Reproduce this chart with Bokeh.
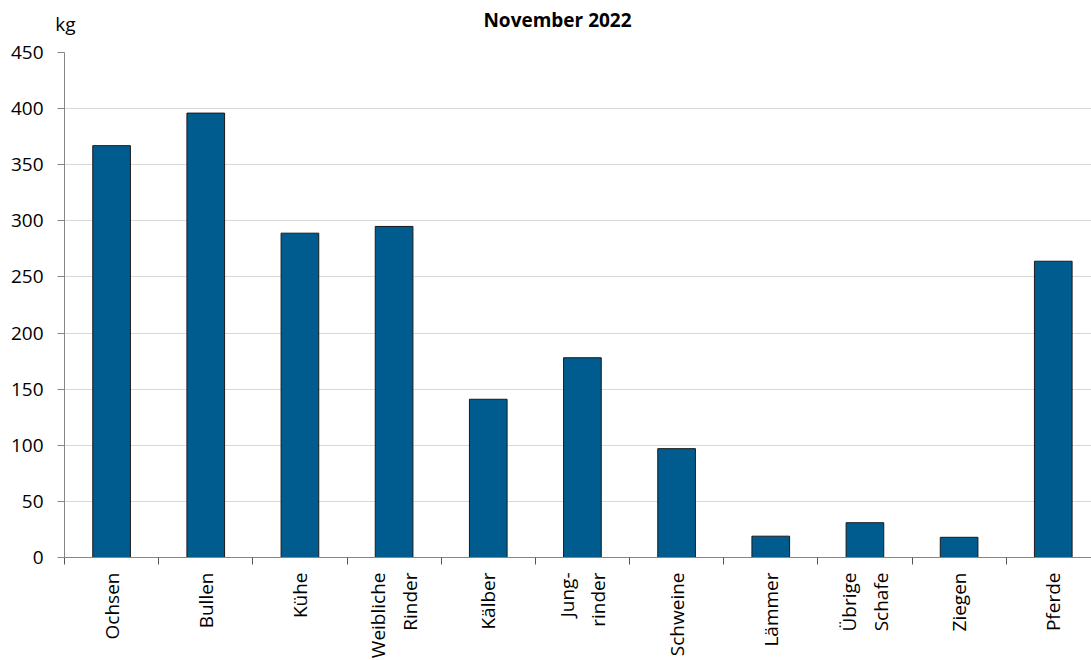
import math
from bokeh.plotting import figure
from bokeh.layouts import column
from bokeh.models import FixedTicker, ColumnDataSource, Range1d
from bokeh.core.properties import value
from bokeh.embed import file_html
from bokeh.resources import INLINE

categories = ["Ochsen", "Bullen", "Kühe", "Weibliche\nRinder", "Kälber", "Jung-\nrinder",
              "Schweine", "Lämmer", "Übrige\nSchafe", "Ziegen", "Pferde"]
values = [367, 396, 289, 295, 141, 178, 97, 19, 31, 18, 264]
y_ticks = [0, 50, 100, 150, 200, 250, 300, 350, 400, 450]
title_text = "November 2022"
unit_text = "kg"

FONT = "Open Sans"
BAR = "#005B8F"

n = len(categories)
centers = [i + 0.5 for i in range(n)]
bounds = [i for i in range(n + 1)]

# header: title as text glyph, unit as the header's y-axis label
head = figure(width=1091, height=36, output_backend="svg", toolbar_location=None,
              x_range=Range1d(64, 1091), y_range=Range1d(0, 36),
              x_axis_location=None,
              min_border_left=64, min_border_right=0, min_border_top=0, min_border_bottom=0)
head.outline_line_color = None
head.xgrid.grid_line_color = None
head.ygrid.grid_line_color = None
head.yaxis.ticker = FixedTicker(ticks=[13])
head.yaxis.major_label_overrides = {13: unit_text}
head.yaxis.axis_line_color = None
head.yaxis.major_tick_line_color = None
head.yaxis.minor_tick_line_color = None
head.yaxis.major_tick_out = 0
head.yaxis.major_tick_in = 0
head.yaxis.major_label_standoff = -11
head.yaxis.major_label_text_font = FONT
head.yaxis.major_label_text_font_size = "19px"
head.yaxis.major_label_text_color = "black"
head.text(x=[557], y=[17], text=[title_text], text_font=value(FONT), text_font_size="19px",
          text_font_style="bold", text_align="center", text_baseline="middle", text_color="black")

p = figure(frame_width=1027, frame_height=505, output_backend="svg", toolbar_location=None,
           x_range=Range1d(0, 10.906), y_range=Range1d(0, 450),
           min_border_left=64, min_border_right=0, min_border_top=16, min_border_bottom=0)
p.outline_line_color = None
p.background_fill_color = "white"
p.border_fill_color = "white"

src = ColumnDataSource(dict(x=centers, top=values))
p.vbar(x="x", top="top", width=0.4, bottom=0, source=src, fill_color=BAR,
       line_color="#1a1a1a", line_width=1)

# y axis
p.yaxis.ticker = FixedTicker(ticks=y_ticks)
p.yaxis.axis_line_color = "#868686"
p.yaxis.major_tick_line_color = "#868686"
p.yaxis.major_tick_out = 7
p.yaxis.major_tick_in = 0
p.yaxis.minor_tick_line_color = None
p.yaxis.major_label_text_font = FONT
p.yaxis.major_label_text_font_size = "19px"
p.yaxis.major_label_text_color = "black"
p.yaxis.major_label_standoff = 14

# x axis
p.xaxis.ticker = FixedTicker(ticks=centers, minor_ticks=bounds)
p.xaxis.major_label_overrides = {c: lab for c, lab in zip(centers, categories)}
p.xaxis.axis_line_color = "#868686"
p.xaxis.major_tick_line_color = None
p.xaxis.major_tick_out = 0
p.xaxis.major_tick_in = 0
p.xaxis.minor_tick_line_color = "#555555"
p.xaxis.minor_tick_out = 7
p.xaxis.minor_tick_in = 0
p.xaxis.major_label_orientation = math.pi / 2
p.xaxis.major_label_text_font = FONT
p.xaxis.major_label_text_font_size = "19px"
p.xaxis.major_label_text_color = "black"
p.xaxis.major_label_standoff = 8

p.xgrid.grid_line_color = None
p.ygrid.ticker = FixedTicker(ticks=y_ticks[1:])
p.ygrid.grid_line_color = "#D9D9D9"
p.ygrid.grid_line_width = 1

layout = column(head, p, spacing=0)
open("out.html", "w").write(file_html(layout, INLINE))
